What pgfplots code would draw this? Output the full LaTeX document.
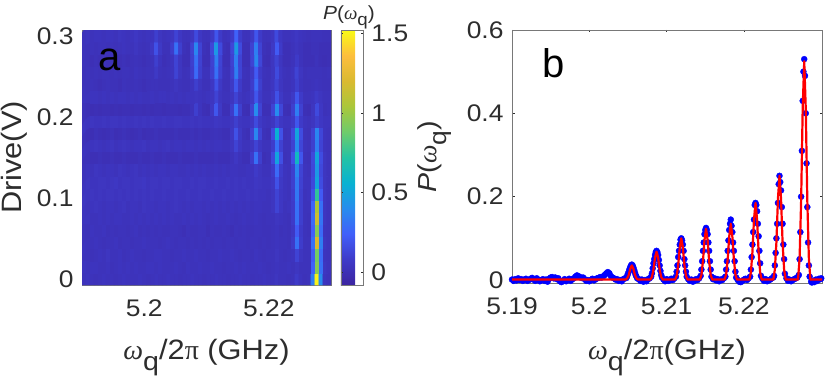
\documentclass[border=0pt]{standalone}
\usepackage{pgfplots}
\pgfplotsset{compat=1.18}
\usepackage{fontspec}
\setmainfont[FakeStretch=1.1]{Liberation Sans}
\newfontfamily\plain{Liberation Sans}
\newfontfamily\symf{Liberation Serif}
\definecolor{tk}{RGB}{45,45,45}
\definecolor{ax}{RGB}{120,120,120}
\definecolor{bgc}{RGB}{61,50,186}
\pgfplotsset{
 colormap={parulanew}{rgb255=(60,36,160) rgb255=(62,58,200) rgb255=(65,95,250) rgb255=(39,140,238) rgb255=(8,178,210) rgb255=(35,195,165) rgb255=(110,204,107) rgb255=(170,199,58) rgb255=(218,186,48) rgb255=(253,190,61) rgb255=(249,251,21)},
 common/.style={scale only axis, axis line style={ax,line width=0.9pt}, tick style={tk,line width=0.5pt}, tick align=inside, major tick length=2.5pt,
   ticklabel style={font=\fontsize{24pt}{26pt}\selectfont,text=tk}, label style={font=\fontsize{28pt}{30pt}\selectfont,text=tk},
   x tick label style={yshift=-11pt}, y tick label style={xshift=-5pt}}
}
\newcommand{\wq}{{\symf\itshape ω}\raisebox{-0.38em}{\fontsize{26pt}{28pt}\selectfont q}}
\begin{document}
\begin{tikzpicture}[x=1pt,y=1pt]
\useasboundingbox (0,0) rectangle (830,384);
\begin{axis}[common,at={(82pt,99pt)},anchor=south west,width=249pt,height=255pt,
 axis background/.style={fill=bgc},
 xmin=5.19,xmax=5.23,ymin=-0.0075,ymax=0.3075,
 xtick={5.2,5.22},xticklabels={5.2,5.22},ytick={0,0.1,0.2,0.3},yticklabels={0,0.1,0.2,0.3},
 xlabel={\wq/2{\symf π} (GHz)},ylabel={Drive(V)},
 xlabel style={at={(axis description cs:0.5,-0.285)},anchor=center},
 ylabel style={at={(axis description cs:-0.272,0.5)},anchor=center},
 point meta min=-0.08,point meta max=1.52,colormap name=parulanew,
 colorbar,colorbar style={at={(1.04,0)},anchor=south west,width=22pt,height=255pt,scale only axis,
   ytick={0,0.5,1,1.5},yticklabels={0,0.5,1,1.5},tick align=inside,major tick length=2pt,
   axis line style={ax,line width=0.9pt},tick style={tk,line width=0.5pt},
   yticklabel style={font=\fontsize{24pt}{26pt}\selectfont,text=tk,xshift=5pt}},
]
\addplot[matrix plot*,mesh/cols=62,point meta=explicit] table[header=false,row sep=\\,meta index=0,
 x expr={5.19+(mod(\coordindex,62)+0.5)*0.000645},y expr={floor(\coordindex/62)*0.015}] {
0.03\\0.04\\0.03\\0.02\\0.03\\0.04\\0.03\\0.03\\0.02\\0.03\\0.04\\0.03\\ 0.03\\0.03\\0.04\\0.03\\0.02\\ 0.03\\0.04\\0.03\\0.03\\0.04\\ 0.03\\0.03\\0.02\\0.03\\0.03\\ 0.04\\0.03\\0.03\\0.02\\0.03\\ 0.03\\0.04\\0.03\\0.03\\0.02\\ 0.03\\0.03\\0.04\\0.03\\0.03\\ 0.02\\0.03\\0.03\\0.04\\0.03\\ 0.03\\0.05\\0.03\\0.03\\0.02\\ 0.03\\0.08\\0.04\\0.02\\0.03\\ 0.35\\1.5\\0.4\\0.04\\0.02\\
0.04\\0.03\\0.04\\0.04\\0.03\\0.03\\0.04\\0.02\\0.03\\0.04\\0.03\\0.04\\ 0.03\\0.04\\0.03\\0.03\\0.04\\ 0.04\\0.03\\0.04\\0.03\\0.03\\ 0.03\\0.04\\0.03\\0.02\\0.04\\ 0.03\\0.03\\0.04\\0.03\\0.03\\ 0.04\\0.03\\0.03\\0.02\\0.03\\ 0.03\\0.04\\0.03\\0.04\\0.03\\ 0.03\\0.03\\0.04\\0.03\\0.02\\ 0.03\\0.04\\0.03\\0.03\\0.04\\ 0.03\\0.05\\0.03\\0.03\\0.03\\ 0.25\\0.95\\0.3\\0.05\\0.03\\
0.03\\0.03\\0.02\\0.03\\0.04\\0.03\\0.05\\0.03\\0.03\\0.04\\0.02\\0.03\\ 0.04\\0.03\\0.03\\0.02\\0.03\\ 0.03\\0.04\\0.04\\0.03\\0.03\\ 0.02\\0.03\\0.03\\0.04\\0.03\\ 0.03\\0.04\\0.03\\0.03\\0.02\\ 0.03\\0.03\\0.04\\0.03\\0.03\\ 0.04\\0.03\\0.02\\0.03\\0.03\\ 0.02\\0.04\\0.03\\0.02\\0.03\\ 0.03\\0.05\\0.03\\0.02\\0.03\\ 0.04\\0.12\\0.05\\0.03\\0.03\\ 0.22\\0.9\\0.28\\0.04\\0.03\\
0.04\\0.03\\0.03\\0.04\\0.03\\0.02\\0.03\\0.03\\0.04\\0.02\\0.03\\0.03\\ 0.02\\0.03\\0.03\\0.04\\0.03\\ 0.03\\0.03\\0.02\\0.03\\0.04\\ 0.03\\0.02\\0.03\\0.03\\0.02\\ 0.03\\0.02\\0.03\\0.02\\0.03\\ 0.02\\0.03\\0.03\\0.02\\0.03\\ 0.03\\0.02\\0.03\\0.03\\0.02\\ 0.03\\0.03\\0.02\\0.03\\0.02\\ 0.03\\0.04\\0.03\\0.03\\0.02\\ 0.08\\0.3\\0.09\\0.03\\0.03\\ 0.3\\1.2\\0.35\\0.05\\0.03\\
0.03\\0.02\\0.04\\0.03\\0.03\\0.04\\0.02\\0.03\\0.02\\0.03\\0.03\\0.02\\ 0.03\\0.04\\0.02\\0.03\\0.02\\ 0.03\\0.02\\0.03\\0.02\\0.02\\ 0.03\\0.03\\0.02\\0.01\\0.03\\ 0.02\\0.02\\0.03\\0.03\\0.01\\ 0.03\\0.02\\0.02\\0.03\\0.02\\ 0.01\\0.03\\0.02\\0.03\\0.02\\ 0.02\\0.03\\0.03\\0.02\\0.02\\ 0.03\\0.04\\0.02\\0.03\\0.02\\ 0.06\\0.22\\0.08\\0.03\\0.02\\ 0.24\\0.95\\0.28\\0.04\\0.03\\
0.04\\0.04\\0.03\\0.03\\0.04\\0.03\\0.04\\0.03\\0.04\\0.04\\0.03\\0.03\\ 0.04\\0.03\\0.04\\0.03\\0.04\\ 0.03\\0.04\\0.03\\0.04\\0.03\\ 0.04\\0.03\\0.03\\0.04\\0.03\\ 0.04\\0.03\\0.04\\0.03\\0.02\\ 0.03\\0.04\\0.03\\0.03\\0.04\\ 0.03\\0.02\\0.03\\0.04\\0.03\\ 0.03\\0.04\\0.03\\0.02\\0.03\\ 0.03\\0.05\\0.04\\0.03\\0.02\\ 0.08\\0.3\\0.1\\0.03\\0.02\\ 0.28\\1.15\\0.32\\0.05\\0.03\\
0.04\\0.03\\0.04\\0.05\\0.04\\0.03\\0.04\\0.04\\0.03\\0.04\\0.05\\0.03\\ 0.04\\0.04\\0.03\\0.05\\0.04\\ 0.04\\0.03\\0.04\\0.04\\0.03\\ 0.04\\0.05\\0.04\\0.03\\0.04\\ 0.03\\0.04\\0.04\\0.03\\0.04\\ 0.03\\0.04\\0.03\\0.04\\0.03\\ 0.04\\0.03\\0.04\\0.03\\0.04\\ 0.03\\0.04\\0.04\\0.03\\0.03\\ 0.05\\0.12\\0.06\\0.03\\0.04\\ 0.08\\0.3\\0.1\\0.03\\0.03\\ 0.25\\1.05\\0.3\\0.05\\0.03\\
0.05\\0.04\\0.05\\0.04\\0.05\\0.04\\0.05\\0.05\\0.04\\0.05\\0.04\\0.05\\ 0.04\\0.05\\0.04\\0.05\\0.04\\ 0.05\\0.04\\0.04\\0.05\\0.04\\ 0.04\\0.05\\0.04\\0.04\\0.05\\ 0.04\\0.04\\0.05\\0.04\\0.04\\ 0.05\\0.04\\0.04\\0.05\\0.04\\ 0.04\\0.05\\0.04\\0.04\\0.05\\ 0.04\\0.05\\0.04\\0.04\\0.03\\ 0.05\\0.12\\0.06\\0.04\\0.03\\ 0.09\\0.33\\0.1\\0.03\\0.04\\ 0.18\\0.75\\0.22\\0.05\\0.03\\
0.04\\0.05\\0.04\\0.04\\0.05\\0.05\\0.04\\0.05\\0.06\\0.04\\0.05\\0.05\\ 0.04\\0.05\\0.05\\0.06\\0.04\\ 0.05\\0.05\\0.04\\0.05\\0.05\\ 0.04\\0.05\\0.05\\0.04\\0.04\\ 0.05\\0.04\\0.05\\0.05\\0.04\\ 0.04\\0.05\\0.04\\0.04\\0.05\\ 0.04\\0.05\\0.04\\0.05\\0.04\\ 0.04\\0.06\\0.05\\0.04\\0.04\\ 0.06\\0.18\\0.07\\0.04\\0.03\\ 0.1\\0.33\\0.11\\0.04\\0.04\\ 0.14\\0.5\\0.16\\0.05\\0.03\\
0.03\\0.04\\0.03\\0.05\\0.04\\0.03\\0.04\\0.04\\0.03\\0.05\\0.04\\0.03\\ 0.04\\0.05\\0.03\\0.04\\0.03\\ 0.04\\0.03\\0.04\\0.04\\0.03\\ 0.04\\0.04\\0.03\\0.03\\0.04\\ 0.03\\0.04\\0.03\\0.04\\0.03\\ 0.03\\0.04\\0.03\\0.04\\0.03\\ 0.04\\0.04\\0.03\\0.03\\0.04\\ 0.04\\0.08\\0.05\\0.03\\0.03\\ 0.08\\0.28\\0.09\\0.04\\0.03\\ 0.1\\0.38\\0.12\\0.04\\0.03\\ 0.13\\0.45\\0.14\\0.05\\0.03\\
0.02\\0.02\\0.01\\0.01\\0.02\\0.01\\0.01\\0.02\\0.01\\0.01\\0.02\\0.01\\ 0.01\\0.01\\0.02\\0.01\\0.01\\ 0.02\\0.01\\0.01\\0.02\\0.01\\ 0.01\\0.01\\0.02\\0.01\\0.01\\ 0.01\\0.02\\0.01\\0.01\\0.01\\ 0.01\\0.02\\0.01\\0.01\\0.01\\ 0.03\\0.06\\0.03\\0.01\\0.01\\ 0.09\\0.3\\0.1\\0.01\\0.02\\ 0.14\\0.5\\0.17\\0.02\\0.03\\ 0.17\\0.62\\0.2\\0.03\\0.02\\ 0.14\\0.5\\0.16\\0.05\\0.03\\
0.04\\0.03\\0.04\\0.05\\0.04\\0.03\\0.04\\0.05\\0.03\\0.04\\0.05\\0.04\\ 0.03\\0.04\\0.04\\0.05\\0.03\\ 0.04\\0.04\\0.03\\0.04\\0.05\\ 0.03\\0.04\\0.04\\0.03\\0.04\\ 0.04\\0.03\\0.04\\0.03\\0.04\\ 0.03\\0.04\\0.04\\0.03\\0.03\\ 0.05\\0.12\\0.06\\0.03\\0.03\\ 0.05\\0.12\\0.06\\0.03\\0.03\\ 0.09\\0.3\\0.11\\0.03\\0.03\\ 0.11\\0.4\\0.13\\0.04\\0.03\\ 0.1\\0.35\\0.12\\0.04\\0.03\\
0.02\\0.01\\0.0\\0.02\\0.01\\0.0\\0.01\\0.02\\0.0\\0.01\\0.02\\0.01\\ 0.0\\0.01\\0.02\\0.0\\0.01\\ 0.01\\0.02\\0.01\\0.01\\0.01\\ 0.01\\0.02\\0.01\\0.01\\0.01\\ 0.02\\0.01\\0.02\\0.01\\0.01\\ 0.02\\0.03\\0.02\\0.01\\0.01\\ 0.06\\0.18\\0.07\\0.02\\0.01\\ 0.11\\0.38\\0.12\\0.02\\0.01\\ 0.15\\0.55\\0.18\\0.02\\0.03\\ 0.14\\0.5\\0.16\\0.03\\0.02\\ 0.11\\0.38\\0.13\\0.04\\0.03\\
0.05\\0.04\\0.05\\0.04\\0.04\\0.05\\0.04\\0.05\\0.05\\0.04\\0.05\\0.04\\ 0.04\\0.05\\0.04\\0.05\\0.04\\ 0.05\\0.04\\0.04\\0.05\\0.04\\ 0.04\\0.05\\0.05\\0.04\\0.04\\ 0.05\\0.04\\0.05\\0.04\\0.04\\ 0.04\\0.06\\0.05\\0.04\\0.04\\ 0.05\\0.1\\0.05\\0.04\\0.04\\ 0.06\\0.15\\0.07\\0.04\\0.03\\ 0.05\\0.12\\0.06\\0.04\\0.04\\ 0.07\\0.2\\0.08\\0.04\\0.03\\ 0.05\\0.1\\0.06\\0.04\\0.04\\
0.02\\0.01\\0.0\\0.01\\0.0\\0.01\\0.01\\0.0\\0.01\\0.0\\0.01\\0.01\\ 0.0\\0.01\\0.01\\0.0\\0.01\\ 0.0\\0.01\\0.01\\0.0\\0.01\\ 0.01\\0.01\\0.0\\0.01\\0.01\\ 0.03\\0.1\\0.04\\0.01\\0.0\\ 0.06\\0.2\\0.07\\0.01\\0.01\\ 0.09\\0.3\\0.1\\0.01\\0.0\\ 0.11\\0.4\\0.12\\0.01\\0.01\\ 0.12\\0.4\\0.13\\0.01\\0.0\\ 0.1\\0.35\\0.11\\0.01\\0.0\\ 0.05\\0.15\\0.06\\0.02\\0.03\\
0.04\\0.03\\0.04\\0.04\\0.03\\0.04\\0.03\\0.04\\0.03\\0.04\\0.04\\0.03\\ 0.04\\0.03\\0.04\\0.03\\0.03\\ 0.04\\0.03\\0.04\\0.04\\0.03\\ 0.04\\0.03\\0.04\\0.03\\0.04\\ 0.04\\0.05\\0.04\\0.03\\0.04\\ 0.05\\0.12\\0.05\\0.03\\0.03\\ 0.05\\0.12\\0.05\\0.03\\0.04\\ 0.07\\0.2\\0.08\\0.03\\0.03\\ 0.06\\0.18\\0.07\\0.03\\0.03\\ 0.07\\0.2\\0.08\\0.03\\0.03\\ 0.04\\0.08\\0.05\\0.03\\0.03\\
0.03\\0.02\\0.03\\0.02\\0.01\\0.02\\0.03\\0.02\\0.02\\0.01\\0.03\\0.02\\ 0.02\\0.03\\0.02\\0.01\\0.02\\ 0.03\\0.03\\0.02\\0.02\\0.02\\ 0.03\\0.05\\0.03\\0.02\\0.02\\ 0.04\\0.1\\0.05\\0.02\\0.02\\ 0.06\\0.18\\0.07\\0.02\\0.02\\ 0.07\\0.2\\0.08\\0.02\\0.02\\ 0.09\\0.28\\0.1\\0.02\\0.02\\ 0.05\\0.12\\0.05\\0.02\\0.02\\ 0.04\\0.1\\0.04\\0.02\\0.02\\ 0.03\\0.04\\0.03\\0.02\\0.02\\
0.02\\0.03\\0.02\\0.03\\0.02\\0.03\\0.03\\0.02\\0.03\\0.02\\0.03\\0.03\\ 0.02\\0.04\\0.03\\0.02\\0.03\\ 0.03\\0.07\\0.03\\0.02\\0.03\\ 0.04\\0.12\\0.05\\0.02\\0.03\\ 0.09\\0.28\\0.1\\0.03\\0.03\\ 0.1\\0.3\\0.11\\0.03\\0.02\\ 0.1\\0.35\\0.12\\0.03\\0.02\\ 0.07\\0.22\\0.08\\0.03\\0.02\\ 0.05\\0.15\\0.06\\0.03\\0.02\\ 0.04\\0.12\\0.05\\0.02\\0.03\\ 0.03\\0.03\\0.03\\0.02\\0.03\\
0.03\\0.02\\0.01\\0.02\\0.01\\0.02\\0.01\\0.02\\0.02\\0.01\\0.02\\0.01\\ 0.02\\0.03\\0.02\\0.01\\0.02\\ 0.03\\0.1\\0.04\\0.01\\0.02\\ 0.04\\0.12\\0.05\\0.01\\0.01\\ 0.1\\0.3\\0.11\\0.01\\0.01\\ 0.11\\0.35\\0.12\\0.01\\0.01\\ 0.11\\0.35\\0.12\\0.01\\0.01\\ 0.12\\0.38\\0.13\\0.01\\0.0\\ 0.05\\0.12\\0.05\\0.01\\0.01\\ 0.03\\0.08\\0.03\\0.01\\0.01\\ 0.01\\0.03\\0.01\\0.0\\0.01\\
0.03\\0.02\\0.03\\0.02\\0.03\\0.03\\0.02\\0.03\\0.02\\0.03\\0.04\\0.03\\ 0.03\\0.05\\0.03\\0.02\\0.03\\ 0.06\\0.18\\0.07\\0.02\\0.02\\ 0.09\\0.3\\0.1\\0.02\\0.01\\ 0.11\\0.38\\0.12\\0.02\\0.01\\ 0.13\\0.45\\0.15\\0.02\\0.01\\ 0.13\\0.45\\0.15\\0.01\\0.01\\ 0.11\\0.35\\0.12\\0.02\\0.01\\ 0.07\\0.22\\0.08\\0.01\\0.01\\ 0.03\\0.05\\0.03\\0.01\\0.01\\ 0.02\\0.02\\0.01\\0.01\\0.01\\
0.03\\0.04\\0.03\\0.04\\0.04\\0.03\\0.04\\0.04\\0.03\\0.05\\0.04\\0.03\\ 0.04\\0.06\\0.04\\0.03\\0.04\\ 0.04\\0.1\\0.05\\0.03\\0.04\\ 0.05\\0.12\\0.06\\0.03\\0.03\\ 0.05\\0.15\\0.06\\0.03\\0.03\\ 0.07\\0.2\\0.08\\0.03\\0.04\\ 0.08\\0.25\\0.09\\0.03\\0.03\\ 0.07\\0.2\\0.08\\0.03\\0.03\\ 0.05\\0.15\\0.06\\0.03\\0.03\\ 0.04\\0.06\\0.04\\0.03\\0.02\\ 0.03\\0.03\\0.03\\0.02\\0.02\\
};
\node[font=\plain\fontsize{40pt}{42pt}\selectfont,text=black,anchor=base west] at (rel axis cs:0.052,0.84) {a};
\end{axis}
\node[font=\fontsize{19pt}{21pt}\selectfont,text=tk,anchor=base] at (349,364) {\textit{P}({\symf\itshape ω}\raisebox{-0.3em}{\fontsize{17pt}{19pt}\selectfont q})};
\begin{axis}[common,at={(512pt,101pt)},anchor=south west,width=310pt,height=253pt,clip=false,
 xmin=5.19,xmax=5.2301,ymin=-0.0072,ymax=0.6,
 xtick={5.19,5.2,5.21,5.22},xticklabels={5.19,5.2,5.21,5.22},ytick={0,0.2,0.4,0.6},yticklabels={0,0.2,0.4,0.6},
 xlabel={\wq/2{\symf π}(GHz)},ylabel={\textit{P}({\symf\itshape ω}\raisebox{-0.38em}{\fontsize{24pt}{26pt}\selectfont q})},
 xlabel style={at={(axis description cs:0.5,-0.295)},anchor=center},
 ylabel style={font=\fontsize{26pt}{28pt}\selectfont,at={(axis description cs:-0.25,0.5)},anchor=center},
]
\addplot[only marks,mark=*,mark size=3pt,color=blue,mark options={draw=blue,fill=blue}] coordinates {
(5.19,0.001)(5.1902,-0.002)(5.1904,0.002)(5.1906,-0.001)(5.1908,0.004)(5.191,0.0)(5.1912,0.002)(5.1914,-0.002)(5.1916,0.001)(5.1918,0.003)(5.192,-0.002)(5.1922,0.0)(5.1924,0.003)(5.1926,0.005)(5.1928,0.001)(5.193,-0.002)(5.1932,0.004)(5.1934,0.001)(5.1936,-0.003)(5.1938,0.0)(5.194,0.002)(5.1942,-0.002)(5.1944,0.001)(5.1946,-0.004)(5.1948,0.003)(5.195,0.006)(5.1952,0.007)(5.1954,0.004)(5.1956,0.006)(5.1958,0.002)(5.196,0.004)(5.1962,-0.003)(5.1964,-0.005)(5.1966,-0.002)(5.1968,0.002)(5.197,-0.003)(5.1972,0.0)(5.1974,0.003)(5.1976,-0.002)(5.1978,0.002)(5.198,0.004)(5.1982,0.008)(5.1984,0.011)(5.1986,0.009)(5.1988,0.007)(5.199,0.005)(5.1992,0.006)(5.1994,0.002)(5.1996,-0.002)(5.1998,0.0)(5.2,-0.003)(5.2002,0.0)(5.2004,0.003)(5.2006,-0.001)(5.2008,0.002)(5.201,0.004)(5.2012,0.005)(5.2014,0.007)(5.2016,0.006)(5.2018,0.009)(5.202,0.012)(5.2022,0.016)(5.2024,0.019)(5.2026,0.016)(5.2028,0.009)(5.203,0.006)(5.2032,0.004)(5.2034,0.001)(5.2036,0.002)(5.2038,-0.002)(5.204,0.0)(5.2042,-0.003)(5.2044,0.002)(5.2046,0.004)
(5.2048,0.005)(5.2049,0.01)(5.205,0.015)(5.2051,0.02)(5.2052,0.026)(5.2053,0.031)(5.2054,0.035)(5.2055,0.037)(5.2056,0.035)(5.2057,0.03)(5.2058,0.024)(5.2059,0.018)(5.206,0.012)(5.2061,0.008)(5.2062,0.004)
(5.2064,0.002)(5.2066,-0.002)(5.2068,0.001)(5.207,-0.004)(5.2072,0.0)(5.2074,-0.003)(5.2076,0.002)(5.2078,0.004)
(5.208,0.008)(5.2081,0.016)(5.2082,0.028)(5.2083,0.04)(5.2084,0.05)(5.2085,0.06)(5.2086,0.067)(5.2087,0.07)(5.2088,0.067)(5.2089,0.06)(5.209,0.048)(5.2091,0.035)(5.2092,0.022)(5.2093,0.012)(5.2094,0.006)
(5.2096,0.001)(5.2098,-0.003)(5.21,0.002)(5.2102,-0.002)(5.2104,-0.001)(5.2106,0.003)(5.2108,0.0)(5.211,0.004)
(5.2112,0.008)(5.2113,0.02)(5.2114,0.035)(5.2115,0.055)(5.2116,0.07)(5.2117,0.085)(5.2118,0.097)(5.2119,0.1)(5.212,0.095)(5.2121,0.085)(5.2122,0.07)(5.2123,0.05)(5.2124,0.035)(5.2125,0.02)(5.2126,0.008)
(5.2128,0.002)(5.213,-0.002)(5.2132,0.001)(5.2134,-0.004)(5.2136,-0.002)(5.2138,0.002)(5.214,0.0)(5.2142,0.004)
(5.2144,0.01)(5.2145,0.025)(5.2146,0.045)(5.2147,0.07)(5.2148,0.09)(5.2149,0.11)(5.215,0.12)(5.2151,0.125)(5.2152,0.12)(5.2153,0.11)(5.2154,0.09)(5.2155,0.07)(5.2156,0.045)(5.2157,0.025)(5.2158,0.008)
(5.216,0.002)(5.2162,0.004)(5.2164,-0.001)(5.2166,0.002)(5.2168,-0.003)(5.217,0.001)(5.2172,0.0)(5.2174,0.004)
(5.2176,0.008)(5.2177,0.025)(5.2178,0.045)(5.2179,0.07)(5.218,0.095)(5.2181,0.12)(5.2182,0.135)(5.2183,0.145)(5.2184,0.13)(5.2185,0.115)(5.2186,0.09)(5.2187,0.07)(5.2188,0.045)(5.2189,0.02)(5.219,0.006)
(5.2192,0.0)(5.2194,-0.004)(5.2196,-0.005)(5.2198,-0.002)(5.22,0.001)(5.2202,0.003)(5.2204,0.0)(5.2206,0.004)
(5.2208,0.008)(5.2209,0.025)(5.221,0.055)(5.2211,0.085)(5.2212,0.115)(5.2213,0.145)(5.2214,0.18)(5.2215,0.185)(5.2216,0.18)(5.2217,0.165)(5.2218,0.135)(5.2219,0.105)(5.222,0.07)(5.2221,0.04)(5.2222,0.01)
(5.2224,0.003)(5.2226,-0.002)(5.2228,0.002)(5.223,-0.003)(5.2232,-0.001)(5.2234,0.001)(5.2236,0.004)(5.2238,0.006)
(5.2239,0.01)(5.224,0.035)(5.2241,0.065)(5.2242,0.1)(5.2243,0.135)(5.2244,0.185)(5.2245,0.23)(5.2246,0.25)(5.2247,0.235)(5.2248,0.215)(5.2249,0.175)(5.225,0.135)(5.2251,0.085)(5.2252,0.05)(5.2253,0.015)
(5.2255,0.004)(5.2257,-0.002)(5.2259,0.001)(5.2261,-0.003)(5.2263,0.0)(5.2265,0.002)(5.2267,0.004)(5.2269,0.006)
(5.2271,0.012)(5.2272,0.05)(5.2273,0.115)(5.2274,0.2)(5.2275,0.31)(5.2276,0.43)(5.2277,0.5)(5.2278,0.53)(5.2279,0.49)(5.228,0.4)(5.2281,0.28)(5.2282,0.175)(5.2283,0.09)(5.2284,0.035)(5.2285,0.008)
(5.2287,-0.004)(5.2288,-0.006)(5.2289,-0.003)(5.2291,-0.005)(5.2293,0.001)(5.2295,-0.002)(5.2297,0.003)(5.2299,0.002)(5.23,0.004)
};
\node[font=\plain\fontsize{40pt}{42pt}\selectfont,text=black,anchor=base west] at (rel axis cs:0.088,0.812) {b};
\end{axis}
\begin{axis}[scale only axis,hide axis,at={(512pt,101pt)},anchor=south west,width=310pt,height=253pt,clip=false,
 xmin=5.19,xmax=5.2301,ymin=-0.0072,ymax=0.6]
\addplot[color=red,line width=2.2pt,line join=round] coordinates {
(5.19,0.001)(5.2047,0.001)(5.2049,0.004)(5.2051,0.012)(5.2053,0.027)(5.2055,0.035)(5.2057,0.027)(5.2059,0.012)(5.2061,0.004)(5.2063,0.001)
(5.2079,0.001)(5.2081,0.007)(5.2083,0.025)(5.2085,0.054)(5.2087,0.068)(5.2089,0.054)(5.2091,0.025)(5.2093,0.007)(5.2095,0.001)
(5.2111,0.001)(5.2113,0.01)(5.2115,0.036)(5.2117,0.078)(5.2119,0.1)(5.2121,0.078)(5.2123,0.036)(5.2125,0.01)(5.2127,0.001)
(5.2143,0.001)(5.2145,0.012)(5.2147,0.045)(5.2149,0.096)(5.2151,0.123)(5.2153,0.096)(5.2155,0.045)(5.2157,0.012)(5.2159,0.001)
(5.2175,0.001)(5.2177,0.013)(5.2179,0.05)(5.2181,0.105)(5.2183,0.135)(5.2185,0.105)(5.2187,0.05)(5.2189,0.013)(5.2191,0.001)
(5.2207,0.001)(5.2209,0.018)(5.2211,0.067)(5.2213,0.145)(5.2215,0.185)(5.2217,0.145)(5.2219,0.067)(5.2221,0.018)(5.2223,0.001)
(5.2238,0.001)(5.224,0.025)(5.2242,0.09)(5.2244,0.195)(5.2246,0.25)(5.2248,0.195)(5.225,0.09)(5.2252,0.025)(5.2254,0.001)
(5.227,0.001)(5.2272,0.052)(5.2274,0.19)(5.2276,0.41)(5.2278,0.525)(5.228,0.41)(5.2282,0.19)(5.2284,0.052)(5.2286,0.001)(5.2301,0.001)
};
\end{axis}
\end{tikzpicture}
\end{document}
